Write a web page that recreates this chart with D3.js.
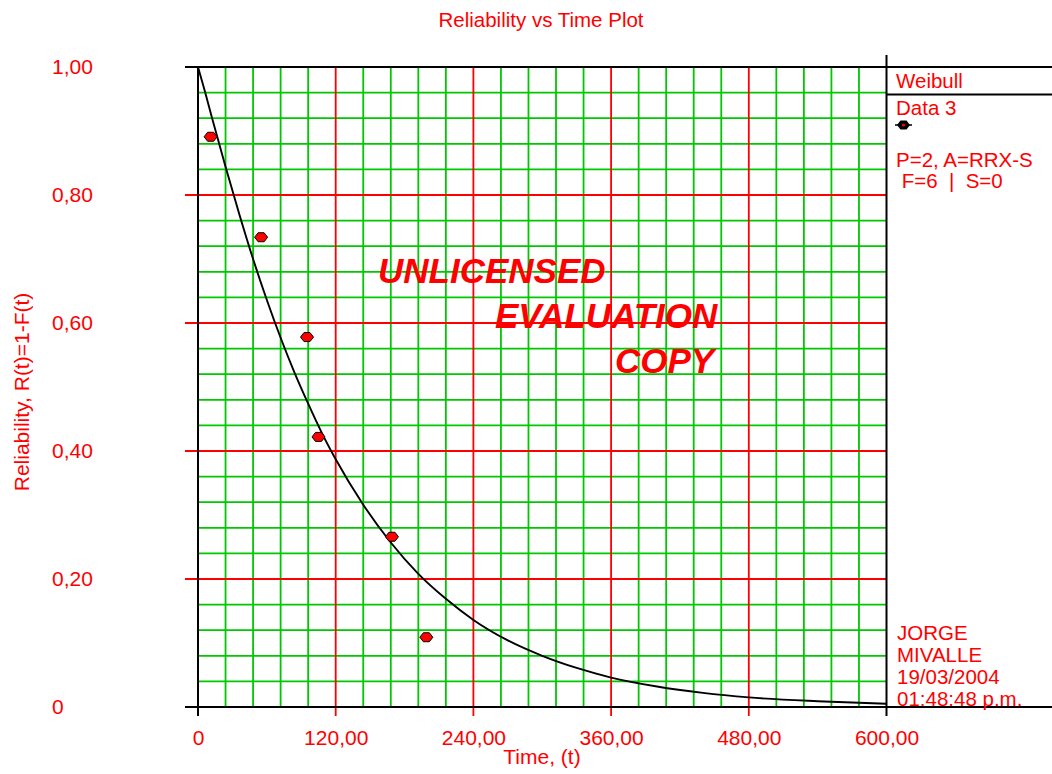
<!DOCTYPE html>
<html>
<head>
<meta charset="utf-8">
<script src="https://cdn.jsdelivr.net/npm/d3@7"></script>
<style>
  html, body { margin: 0; padding: 0; background: #ffffff; }
  svg text { font-family: "Liberation Sans", Arial, sans-serif; fill: #ff0000; }
</style>
</head>
<body>
<svg id="chart" width="1052" height="774"></svg>
<script>
// Failure observations: time and estimated reliability (1 - median rank)
const failureTimes = [11, 55, 95, 105, 169, 199];
const reliabilityPoints = [0.891, 0.734, 0.578, 0.422, 0.266, 0.109];

// Fitted Weibull reliability curve, R(t) at sampled times
const curveTimes = [0, 6, 12, 24, 36, 48, 60, 72, 84, 96, 108, 120, 144, 168, 192, 216, 240, 270, 300, 330, 360, 400, 440, 480, 540, 600];
const curveReliability = [1.000, 0.962, 0.922, 0.844, 0.770, 0.700, 0.636, 0.577, 0.523, 0.474, 0.428, 0.387, 0.316, 0.257, 0.208, 0.169, 0.136, 0.104, 0.080, 0.061, 0.046, 0.032, 0.022, 0.015, 0.009, 0.005];

// Axis ticks
const xMajorTicks = [0, 120, 240, 360, 480, 600];
const xTickLabels = ["0", "120,00", "240,00", "360,00", "480,00", "600,00"];
const yMajorTicks = [0, 0.2, 0.4, 0.6, 0.8, 1.0];
const yTickLabels = ["0", "0,20", "0,40", "0,60", "0,80", "1,00"];
const xMinorStep = 24;
const yMinorStep = 0.04;

// Text blocks
const chartTitle = "Reliability vs Time Plot";
const xAxisTitle = "Time, (t)";
const yAxisTitle = "Reliability, R(t)=1-F(t)";
const legendTitle = "Weibull";
const seriesName = "Data 3";
const infoLines = ["P=2, A=RRX-S", " F=6  |  S=0"];
const stampLines = ["JORGE", "MIVALLE", "19/03/2004", "01:48:48 p.m."];
const watermarkLines = ["UNLICENSED", "EVALUATION", "COPY"];

const svg = d3.select("#chart");
const RED = "#ff0000", GREEN = "#00c800", BLACK = "#000000";

const x = d3.scaleLinear().domain([0, 600]).range([198, 886.5]);
const y = d3.scaleLinear().domain([0, 1]).range([707, 67]);

// Minor grid (green)
const grid = svg.append("g");
const xMinor = d3.range(0, 600 + 1e-9, xMinorStep).filter(v => !xMajorTicks.includes(v));
const yMinor = d3.range(0, 1 + 1e-9, yMinorStep).map(v => +v.toFixed(2)).filter(v => !yMajorTicks.some(t => Math.abs(t - v) < 1e-6));
grid.selectAll("line.vminor").data(xMinor).join("line")
  .attr("x1", d => x(d)).attr("x2", d => x(d))
  .attr("y1", y(1)).attr("y2", y(0))
  .attr("stroke", GREEN).attr("stroke-width", 1.8);
grid.selectAll("line.hminor").data(yMinor).join("line")
  .attr("x1", x(0)).attr("x2", x(600))
  .attr("y1", d => y(d)).attr("y2", d => y(d))
  .attr("stroke", GREEN).attr("stroke-width", 1.8);

// Major grid (red), extending past the axes as tick marks
grid.selectAll("line.vmajor").data(xMajorTicks.filter(v => v > 0 && v < 600)).join("line")
  .attr("x1", d => x(d)).attr("x2", d => x(d))
  .attr("y1", y(1)).attr("y2", y(0) + 9)
  .attr("stroke", RED).attr("stroke-width", 1.8);
grid.selectAll("line.hmajor").data(yMajorTicks.filter(v => v > 0 && v < 1)).join("line")
  .attr("x1", x(0) - 13).attr("x2", x(600))
  .attr("y1", d => y(d)).attr("y2", d => y(d))
  .attr("stroke", RED).attr("stroke-width", 1.8);

// Frame lines
const frame = svg.append("g").attr("stroke", BLACK).attr("stroke-width", 2);
frame.append("line").attr("x1", x(0) - 13).attr("x2", 1052).attr("y1", y(1)).attr("y2", y(1));
frame.append("line").attr("x1", x(0) - 13).attr("x2", 1052).attr("y1", y(0)).attr("y2", y(0));
frame.append("line").attr("x1", x(0)).attr("x2", x(0)).attr("y1", y(1)).attr("y2", y(0) + 9);
frame.append("line").attr("x1", x(600)).attr("x2", x(600)).attr("y1", y(1) - 12).attr("y2", y(0) + 9);
frame.append("line").attr("x1", x(600)).attr("x2", 1052).attr("y1", 94.5).attr("y2", 94.5);

// Axes labels via d3 axes
const xAxis = d3.axisBottom(x).tickValues(xMajorTicks)
  .tickFormat((d, i) => xTickLabels[i]).tickSize(0).tickPadding(23);
const gx = svg.append("g").attr("transform", `translate(0,${y(0)})`).call(xAxis);
gx.select(".domain").remove();
gx.selectAll("text").attr("font-size", 21).attr("fill", RED)
  .style("font-family", '"Liberation Sans", Arial, sans-serif');

const yAxis = d3.axisLeft(y).tickValues(yMajorTicks)
  .tickFormat((d, i) => yTickLabels[i]).tickSize(0);
const gy = svg.append("g").attr("transform", `translate(${x(0)},0)`).call(yAxis);
gy.select(".domain").remove();
gy.selectAll("text").attr("font-size", 21).attr("fill", RED)
  .attr("x", 52 - x(0)).attr("text-anchor", "start")
  .style("font-family", '"Liberation Sans", Arial, sans-serif');

// Fitted curve
const line = d3.line().x(d => x(d[0])).y(d => y(d[1])).curve(d3.curveMonotoneX);
svg.append("path")
  .datum(curveTimes.map((t, i) => [t, curveReliability[i]]))
  .attr("d", line).attr("fill", "none").attr("stroke", BLACK).attr("stroke-width", 1.9);

// Data markers
const markerPath = "M-6.5,0 L-3,-4.5 L3,-4.5 L6.5,0 L3,4.5 L-3,4.5 Z";
svg.append("g").selectAll("path").data(failureTimes.map((t, i) => [t, reliabilityPoints[i]])).join("path")
  .attr("d", markerPath)
  .attr("transform", d => `translate(${x(d[0])},${y(d[1])})`)
  .attr("fill", RED).attr("stroke", BLACK).attr("stroke-width", 1);

// Watermark
const wm = svg.append("g").attr("font-size", 35).attr("font-weight", "bold").attr("font-style", "italic");
const wmX = [378, 495, 615], wmY = [283, 328, 373];
watermarkLines.forEach((s, i) => wm.append("text").attr("x", wmX[i]).attr("y", wmY[i]).text(s));

// Titles
svg.append("text").attr("x", 541).attr("y", 27).attr("text-anchor", "middle").attr("font-size", 20.5).text(chartTitle);
svg.append("text").attr("x", 542).attr("y", 764).attr("text-anchor", "middle").attr("font-size", 21).text(xAxisTitle);
svg.append("text").attr("transform", "translate(29,392) rotate(-90)").attr("text-anchor", "middle").attr("font-size", 21).text(yAxisTitle);

// Legend
const lg = svg.append("g").attr("font-size", 20.5);
lg.append("text").attr("x", 896).attr("y", 88).text(legendTitle);
lg.append("text").attr("x", 896).attr("y", 115).text(seriesName);
lg.append("line").attr("x1", 895).attr("x2", 912).attr("y1", 125).attr("y2", 125).attr("stroke", BLACK).attr("stroke-width", 1.5);
lg.append("path").attr("d", markerPath).attr("transform", "translate(903.5,125)").attr("fill", BLACK);
lg.append("circle").attr("cx", 903.5).attr("cy", 125).attr("r", 1.6).attr("fill", RED);
infoLines.forEach((s, i) => lg.append("text").attr("x", 896).attr("y", 167 + i * 21).attr("xml:space", "preserve").style("white-space", "pre").text(s));
stampLines.forEach((s, i) => lg.append("text").attr("x", 897).attr("y", 639.5 + i * 22).text(s));
</script>
</body>
</html>
